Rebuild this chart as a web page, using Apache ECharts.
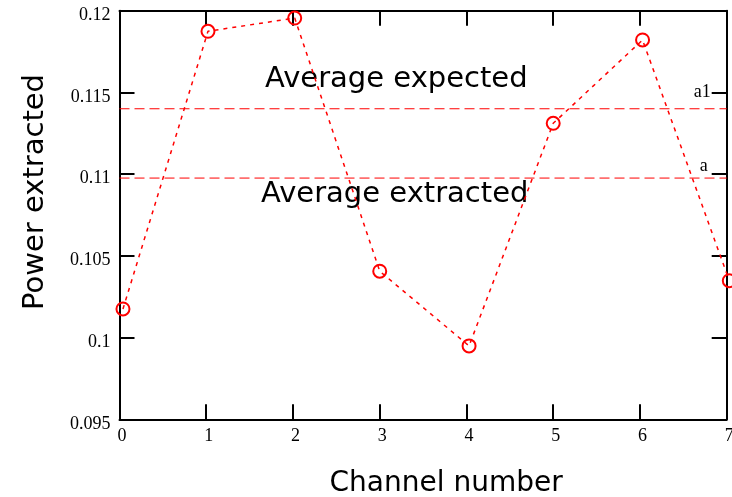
<!DOCTYPE html>
<html>
<head>
<meta charset="utf-8">
<script src="https://cdn.jsdelivr.net/npm/echarts@6/dist/echarts.min.js"></script>
<style>html,body{margin:0;padding:0;background:#fff}#c{width:732px;height:497px}</style>
</head>
<body>
<div id="c"></div>
<script>
// ---- data ----
const channels = [0.04, 1.02, 2.02, 3.0, 4.03, 5.0, 6.03, 7.03];
const power = [0.10175, 0.11874, 0.11955, 0.10406, 0.09949, 0.11311, 0.11821, 0.10348];
const averageExpected = 0.1140;
const averageExtracted = 0.10976;
const lineSpan = [0, 7];
const xTickLabels = ['0', '1', '2', '3', '4', '5', '6', '7'];
const yTickLabels = ['0.095', '0.1', '0.105', '0.11', '0.115', '0.12'];
const rightLabels = { '0.115': 'a1', '0.11': 'a' };
const annotations = ['Average expected', 'Average extracted'];

const serif = 'Liberation Serif';
const hand = 'DejaVu Sans';
const axisLine = { show: true, onZero: false, lineStyle: { color: '#000', width: 2 } };
const ticks = { show: true, inside: true, length: 15, lineStyle: { color: '#000', width: 2 } };
const avgLine = { color: '#ff0000', width: 1, type: [10, 5] };

const chart = echarts.init(document.getElementById('c'));
chart.setOption({
  animation: false,
  grid: { left: 119.5, right: 5.3, top: 10.7, bottom: 77.7, containLabel: false, outerBoundsMode: 'none' },
  xAxis: [{
    type: 'value', min: 0, max: 7, interval: 1, position: 'bottom',
    axisLine: axisLine, axisTick: ticks, splitLine: { show: false },
    axisLabel: { color: '#000', fontFamily: serif, fontSize: 18, margin: 8,
      padding: [0, 0, 0, 5], formatter: v => xTickLabels[Math.round(v)] },
    name: 'Channel number', nameLocation: 'middle', nameGap: 50,
    nameTextStyle: { fontFamily: hand, fontSize: 28, color: '#000', padding: [0, 0, 0, 46] }
  }, {
    type: 'value', min: 0, max: 7, interval: 1, position: 'top',
    axisLine: axisLine, axisTick: ticks, axisLabel: { show: false }, splitLine: { show: false }
  }],
  yAxis: [{
    type: 'value', min: 0.095, max: 0.12, interval: 0.005, position: 'left',
    axisLine: axisLine, axisTick: ticks, splitLine: { show: false },
    axisLabel: { color: '#000', fontFamily: serif, fontSize: 18, margin: 9,
      verticalAlign: 'top', lineHeight: 9,
      formatter: v => yTickLabels[Math.round((v - 0.095) / 0.005)] },
    name: 'Power extracted', nameLocation: 'middle', nameGap: 70, nameRotate: 90,
    nameTextStyle: { fontFamily: hand, fontSize: 29, color: '#000', padding: [0, 0, 0, 46] }
  }, {
    type: 'value', min: 0.095, max: 0.12, interval: 0.005, position: 'right',
    axisLine: axisLine, axisTick: ticks, splitLine: { show: false },
    axisLabel: { inside: true, margin: 16, color: '#000', fontFamily: serif, fontSize: 18,
      formatter: v => {
        const k = (Math.round(v * 1000) / 1000).toString();
        if (rightLabels[k] === 'a1') return '{a1|a1}';
        if (rightLabels[k] === 'a') return '{a|a}';
        return '';
      },
      rich: { a1: { fontFamily: serif, fontSize: 18, color: '#000' },
              a: { fontFamily: serif, fontSize: 18, color: '#000', padding: [0, 3, 16, 0] } } }
  }],
  series: [{
    type: 'line', xAxisIndex: 0, yAxisIndex: 0, clip: true, silent: true,
    data: lineSpan.map(x => [x, averageExpected]),
    symbol: 'none', lineStyle: avgLine, z: 2
  }, {
    type: 'line', xAxisIndex: 0, yAxisIndex: 0, clip: true, silent: true,
    data: lineSpan.map(x => [x, averageExtracted]),
    symbol: 'none', lineStyle: avgLine, z: 2
  }, {
    type: 'line', xAxisIndex: 0, yAxisIndex: 0, clip: false,
    data: channels.map((x, i) => [x, power[i]]),
    symbol: 'circle', symbolSize: 13,
    itemStyle: { color: 'rgba(0,0,0,0)', borderColor: '#ff0000', borderWidth: 2 },
    lineStyle: { color: '#ff0000', width: 1.5, type: [4, 5] },
    z: 3
  }],
  graphic: [
    { type: 'text', left: 265, top: 65, style: { text: annotations[0], fontFamily: hand, fontSize: 29, fill: '#000' } },
    { type: 'text', left: 261, top: 180, style: { text: annotations[1], fontFamily: hand, fontSize: 29, fill: '#000' } }
  ]
});
</script>
</body>
</html>
